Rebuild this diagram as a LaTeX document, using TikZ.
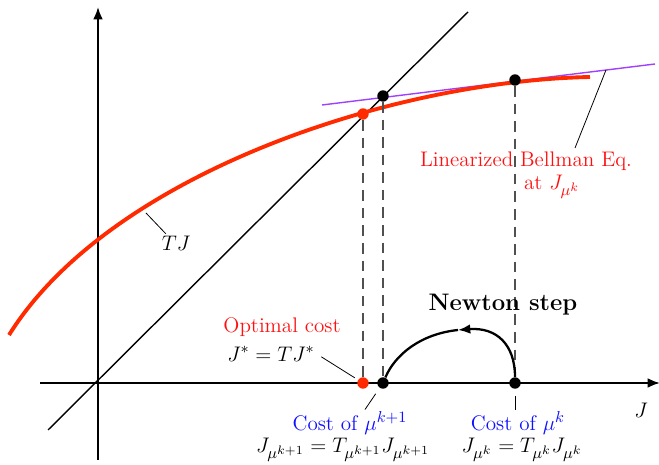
\documentclass[tikz,border=0pt]{standalone}
\usetikzlibrary{calc, arrows.meta}
\usepackage{xcolor}
\DeclareMathSizes{12}{12}{9}{7}
\definecolor{CurveCol}{HTML}{FF2A00}
\definecolor{TangentCol}{HTML}{A040FF}
\definecolor{LabelRed}{HTML}{FF1010}
\definecolor{LabelBlue}{HTML}{1010FF}
\definecolor{DashCol}{HTML}{505050}
\tikzset{
	dot/.style = {circle, fill, inner sep = 0pt, minimum size = 6.5pt},
	pointer/.style = {line width = 0.45pt},
	guide/.style = {DashCol, line width = 0.6pt, dash pattern = on 6pt off 4pt},
	lbl/.style = {font = \large, inner sep = 1pt},
	axis/.style = {line width = 1.1pt, -{Latex[length = 7pt, width = 5.5pt]}}
}

\begin{document}
\begin{tikzpicture}[x = 0.02cm, y = -0.02cm]
	\useasboundingbox (0, 0) rectangle (659, 465);
	% axes and the 45 degree line
	\draw[axis] (40, 383) -- (660, 383);
	\draw[axis] (98, 460) -- (98, 7);
	\draw[line width = 0.8pt] (48, 430) -- (468, 12);
	% TJ and its linearization
	\draw[TangentCol, line width = 0.8pt] (322, 105) -- (655, 64);
	\draw[CurveCol, line width = 2.2pt] (9, 335) .. controls (109, 175) and (390, 81) .. (590, 77);
	\node[dot, CurveCol] (TJstar) at (363, 114) {};
	\node[dot] (TJk1) at (383, 96) {};
	\node[dot] (TJk) at (515, 80) {};
	\node[dot, CurveCol] (Jstar) at (363, 383) {};
	\node[dot] (Jk1) at (383, 383) {};
	\node[dot] (Jk) at (515, 383) {};
	\draw[guide] (TJstar) -- (Jstar);
	\draw[guide] (TJk1) -- (Jk1);
	\draw[guide] (TJk) -- (Jk);
	% Newton step
	\coordinate (peak) at (458, 330);
	\draw[line width = 1.3pt, -{Latex[length = 7pt, width = 5.5pt]}] (Jk) .. controls (515, 345) and (497, 327) .. (peak);
	\draw[line width = 1.3pt] (peak) .. controls (420, 334) and (395, 355) .. (Jk1);
	\node[font = \fontsize{13.6}{16}\selectfont\bfseries] (newton) at (503, 305) {Newton step};
	% labels
	\node[lbl, LabelRed] (optA) at (282, 327) {Optimal cost};
	\node[lbl] (optB) at (271, 354) {$J^* = TJ^*$};
	\draw[pointer, shorten < = 3pt, shorten > = 2pt] (optB.east) -- (Jstar);
	\node[lbl, LabelBlue] (costk1) at (350, 423) {Cost of $\mu^{k+1}$};
	\node[lbl] (eqk1) at (343, 450) {$J_{\mu^{k+1}} = T_{\mu^{k+1}} J_{\mu^{k+1}}$};
	\draw[pointer, shorten < = 4pt] (Jk1) -- ($(costk1.north) + (15, 0)$);
	\node[lbl, LabelBlue] (costk) at (518, 423) {Cost of $\mu^k$};
	\node[lbl] (eqk) at (522, 450) {$J_{\mu^k} = T_{\mu^k} J_{\mu^k}$};
	\draw[pointer, shorten < = 4pt] (Jk) -- (Jk |- costk.north);
	\node[lbl] (Jaxis) at (641, 410) {$J$};
	\node[lbl, LabelRed] (linA) at (526, 161) {Linearized Bellman Eq.};
	\node[lbl, LabelRed] (linB) at (552, 187) {at $J_{\mu^k}$};
	\coordinate (linTip) at (606, 70);
	\coordinate (linFoot) at (575, 148);
	\draw[pointer] (linFoot) -- (linTip);
	\node[lbl] (TJlabel) at (176, 243) {$TJ$};
	\coordinate (TJtip) at (146, 213);
	\draw[pointer] (TJtip) -- ($(TJlabel.north west) + (6, 0)$);
\end{tikzpicture}
\end{document}
